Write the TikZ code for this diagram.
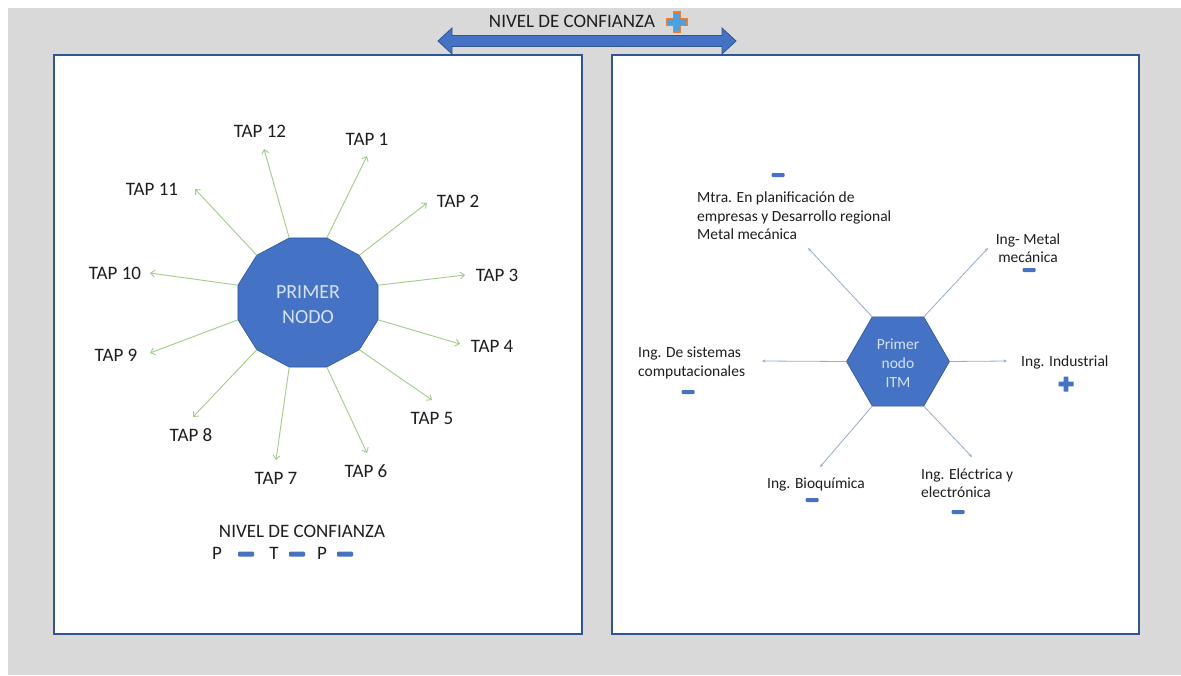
\documentclass[tikz,border=0pt]{standalone}
\usepackage{fontspec}
\setmainfont{Carlito}
\usetikzlibrary{arrows.meta,shapes.geometric}
\definecolor{bgray}{RGB}{217,217,217}
\definecolor{mblue}{RGB}{68,114,196}
\definecolor{dblue}{RGB}{47,85,151}
\definecolor{lgreen}{RGB}{160,205,135}
\definecolor{gblue}{RGB}{150,172,205}
\definecolor{txt}{RGB}{30,30,30}
\definecolor{ptxt}{RGB}{215,225,245}
\definecolor{orng}{RGB}{237,125,49}
\definecolor{lblue}{RGB}{75,160,225}
\begin{document}
\begin{tikzpicture}[x=1pt,y=-1pt,
  panel/.style={draw=dblue, line width=1.8pt, fill=white},
  tap/.style={font=\fontsize{19}{23}\selectfont, text=txt, inner sep=0pt},
  lab/.style={font=\fontsize{15.5}{18.5}\selectfont, text=txt, inner sep=0pt},
  taparrow/.style={draw=lgreen, line width=0.9pt, -{Straight Barb[length=4pt,width=7pt]}},
  hexarrow/.style={draw=gblue, line width=0.8pt, -{Stealth[length=3.5pt,width=3pt]}},
  minusbig/.style={fill=mblue, minimum width=16pt, minimum height=5pt, inner sep=0pt, rounded corners=1pt},
  minussmall/.style={fill=mblue, minimum width=13pt, minimum height=4pt, inner sep=0pt, rounded corners=1pt},
  plusmark/.pic={\path[pic actions] (-1,-0.32) -- (-0.32,-0.32) -- (-0.32,-1) -- (0.32,-1) -- (0.32,-0.32) -- (1,-0.32) -- (1,0.32) -- (0.32,0.32) -- (0.32,1) -- (-0.32,1) -- (-0.32,0.32) -- (-1,0.32) -- cycle;}
]
\useasboundingbox (0,0) rectangle (1181,675);
\fill[bgray] (8,8) rectangle (1181,675);

% panels
\draw[panel] (54,55) rectangle (582,634);
\draw[panel] (612,55) rectangle (1139,634);

% top double arrow and title
\draw[dblue, fill=mblue, line width=0.8pt] (438,41) -- (452,28) -- (452,35.5) -- (722,35.5) -- (722,28) -- (736,41) -- (722,54) -- (722,46.5) -- (452,46.5) -- (452,54) -- cycle;
\node[tap] (ntop) at (572,21) {NIVEL DE CONFIANZA};
\pic[fill=lblue, draw=orng, line width=1.2pt, scale=10] at (677,22) {plusmark};

% left: dodecagon
\foreach \k in {1,...,12}{
  \coordinate (v\k) at ({308+72.5*cos(105-30*\k)},{302.5-66.8*sin(105-30*\k)});
}
\filldraw[fill=mblue, draw=dblue, line width=0.6pt] (v1) \foreach \k in {2,...,12}{ -- (v\k)} -- cycle;
\node[align=center, font=\fontsize{20}{25}\selectfont, text=ptxt, inner sep=0pt] (pn) at (308,305) {PRIMER\\NODO};

\foreach \k/\ex/\ey/\lx/\ly in {1/367/156/367/139, 2/427/203/458/201, 3/465/275/497/275,
  4/460/344/492/346, 5/432/400/432/418, 6/367/453/366/471, 7/276/460/276/478,
  8/193/417/191/435, 9/150/353/116/355, 10/150/273/115/273, 11/195/189/152/189, 12/264/149/260/131}{
  \coordinate (e\k) at (\ex,\ey);
  \node[tap] (t\k) at (\lx,\ly) {TAP \k};
  \draw[taparrow] (v\k) -- (e\k);
}

% bottom-left legend
\node[tap] (nc) at (302,531) {NIVEL DE CONFIANZA};
\node[tap] (p1) at (217,553) {P};
\node[minusbig] (m1) at (246,554) {};
\node[tap] (tt) at (274,553) {T};
\node[minusbig] (m2) at (297,554) {};
\node[tap] (p2) at (322,553) {P};
\node[minusbig] (m3) at (345,554) {};

% right: hexagon
\node[regular polygon, regular polygon sides=6, minimum size=103pt, fill=mblue, draw=dblue, line width=0.6pt, inner sep=0pt, outer sep=0pt] (hex) at (898,361.5) {};
\node[lab, align=center, text=ptxt, font=\fontsize{15.5}{19}\selectfont] (hext) at (898,363) {Primer\\nodo\\ITM};

\node[lab, align=left, anchor=west] (mtra) at (697,216) {Mtra. En planificación de\\empresas y Desarrollo regional\\Metal mecánica};
\node[minussmall] (mm1) at (778,175) {};
\node[lab, align=center] (metal) at (1028,248) {Ing- Metal\\mecánica};
\node[minussmall] (mm2) at (1029,270) {};
\node[lab, anchor=west] (ind) at (1021,362) {Ing. Industrial};
\pic[fill=mblue, scale=7.5] at (1066,384) {plusmark};
\node[lab, align=left, anchor=west] (sis) at (638,363) {Ing. De sistemas\\computacionales};
\node[minussmall] (mm3) at (688,392) {};
\node[lab] (bio) at (816,484) {Ing. Bioquímica};
\node[minussmall] (mm4) at (812,500) {};
\node[lab, align=left, anchor=west] (elec) at (921,483) {Ing. Eléctrica y\\electrónica};
\node[minussmall] (mm5) at (958,512) {};

\coordinate (a1) at (808,248);
\coordinate (a2) at (988,248);
\coordinate (a3) at (762,361);
\coordinate (a4) at (1007,361);
\coordinate (a5) at (820,467);
\coordinate (a6) at (972,457);
\draw[hexarrow] (hex.120) -- (a1);
\draw[hexarrow] (hex.60) -- (a2);
\draw[hexarrow] (hex.180) -- (a3);
\draw[hexarrow] (hex.0) -- (a4);
\draw[hexarrow] (hex.240) -- (a5);
\draw[hexarrow] (hex.300) -- (a6);
\end{tikzpicture}
\end{document}
